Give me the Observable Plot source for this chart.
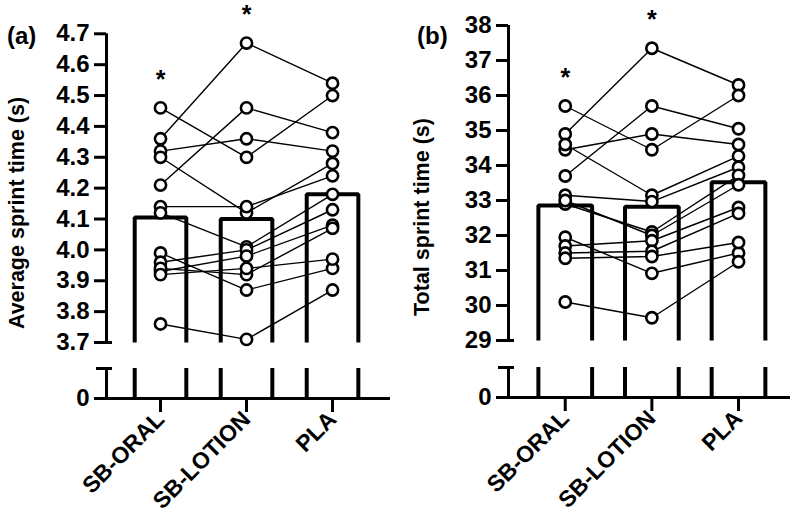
<!DOCTYPE html>
<html>
<head>
<meta charset="utf-8">
<script src="https://cdn.jsdelivr.net/npm/d3@7"></script>
<script src="https://cdn.jsdelivr.net/npm/@observablehq/plot@0.6"></script>
<style>
  html, body { margin: 0; padding: 0; background: #fff; }
  #wrap { position: relative; width: 800px; height: 516px; overflow: hidden;
          font-family: "Liberation Sans", Arial, Helvetica, sans-serif; font-weight: bold; color: #000; }
  .panel { position: absolute; top: 0; width: 400px; height: 516px; }
  .panel svg { position: absolute; left: 0; top: 0; }
  .tag { position: absolute; font-size: 24px; line-height: 1; }
  .ytitle { position: absolute; font-size: 21.5px; line-height: 1; white-space: nowrap;
            transform: translate(-50%, -50%) rotate(-90deg); }
</style>
</head>
<body>
<div id="wrap"></div>
<script>
// ---------- data ----------
const categories = ["SB-ORAL", "SB-LOTION", "PLA"];
const significance = ["*", "*", ""];

// (a) average sprint time (s), one value per participant, same order in each condition
const avgOral   = [4.36, 4.46, 4.21, 4.32, 4.30, 4.14, 4.12, 3.99, 3.76, 3.96, 3.93, 3.94, 3.92];
const avgLotion = [4.67, 4.30, 4.46, 4.36, 4.12, 4.14, 4.01, 3.87, 3.71, 4.00, 3.98, 3.92, 3.94];
const avgPla    = [4.54, 4.50, 4.38, 4.32, 4.28, 4.24, 4.18, 3.94, 3.87, 4.13, 4.08, 4.07, 3.97];
const avgMeans  = [4.105, 4.10, 4.18];
const avgTicks  = [0, 3.7, 3.8, 3.9, 4.0, 4.1, 4.2, 4.3, 4.4, 4.5, 4.6, 4.7];

// (b) total sprint time (s)
const totOral   = [34.9, 35.7, 33.7, 34.45, 34.6, 33.15, 32.9, 31.95, 30.1, 33.0, 31.7, 31.5, 31.35];
const totLotion = [37.35, 34.45, 35.7, 34.9, 33.15, 32.97, 32.1, 30.92, 29.65, 32.0, 31.85, 31.55, 31.4];
const totPla    = [36.3, 36.0, 35.05, 34.6, 34.27, 33.95, 33.72, 31.5, 31.25, 33.45, 32.8, 32.63, 31.8];
const totMeans  = [32.86, 32.82, 33.52];
const totTicks  = [0, 29, 30, 31, 32, 33, 34, 35, 36, 37, 38];

// ---------- layout (per panel) ----------
const panels = [
  { left: 0, tag: "(a)", tagX: 7, tagY: 24, title: "Average sprint time (s)", titleX: 18, titleY: 213,
    values: [avgOral, avgLotion, avgPla], means: avgMeans, ticks: avgTicks,
    fmt: d => d === 0 ? "0" : d.toFixed(1),
    lowTop: 1, brk: 3.7, top: 4.7, yRange: [398, 368, 342, 33.3],
    xDomain: [-0.628, 2.674], marginLeft: 106, half: 0.30 },
  { left: 400, tag: "(b)", tagX: 17, tagY: 24, title: "Total sprint time (s)", titleX: 23, titleY: 217,
    values: [totOral, totLotion, totPla], means: totMeans, ticks: totTicks,
    fmt: d => String(d),
    lowTop: 1, brk: 29, top: 38, yRange: [397, 367, 340, 25],
    xDomain: [-0.655, 2.60], marginLeft: 108, half: 0.31 }
];

const W = 400, H = 516, TICKFONT = 24, XFONT = 23;
const wrap = document.getElementById("wrap");

for (const p of panels) {
  const [xMin, xMax] = p.xDomain;
  const pxPerUnit = (390 - p.marginLeft) / (xMax - xMin);
  const capIn = 6 / pxPerUnit, capOut = 10 / pxPerUnit;

  const points = [];
  p.values.forEach((arr, i) => arr.forEach((v, s) => points.push({i, s, v})));

  const barPath = p.means.flatMap((m, i) => [
    {i, x: i - p.half, y: p.brk}, {i, x: i - p.half, y: m},
    {i, x: i + p.half, y: m}, {i, x: i + p.half, y: p.brk}
  ]);
  const lowSides = p.means.flatMap((m, i) => [i - p.half, i + p.half]);
  const stars = categories.map((c, i) => ({i, y: d3.max(p.values[i]), s: significance[i]})).filter(d => d.s);

  const chart = Plot.plot({
    width: W, height: H,
    marginLeft: p.marginLeft, marginRight: 10,
    marginTop: p.yRange[3], marginBottom: H - p.yRange[0],
    style: {fontFamily: '"Liberation Sans", Arial, sans-serif', fontWeight: "bold", fontSize: TICKFONT + "px", background: "transparent", overflow: "visible"},
    x: {type: "linear", domain: p.xDomain, axis: null},
    y: {type: "linear", domain: [0, p.lowTop, p.brk, p.top], range: p.yRange, axis: null},
    marks: [
      // bars (upper segment and lower segment sides)
      Plot.line(barPath, {x: "x", y: "y", z: "i", stroke: "black", strokeWidth: 4, strokeLinejoin: "miter", strokeLinecap: "butt"}),
      Plot.ruleX(lowSides, {y1: 0, y2: p.lowTop, stroke: "black", strokeWidth: 4}),
      // broken y axis
      Plot.ruleX([xMin], {y1: p.brk, y2: p.top, stroke: "black", strokeWidth: 3}),
      Plot.ruleX([xMin], {y1: 0, y2: p.lowTop, stroke: "black", strokeWidth: 3}),
      Plot.ruleY([p.brk], {x1: xMin, x2: xMin + capIn, stroke: "black", strokeWidth: 3}),
      Plot.ruleY([p.lowTop], {x1: xMin - capOut, x2: xMin + capIn, stroke: "black", strokeWidth: 3}),
      Plot.ruleY([0], {x1: xMin, x2: xMax, stroke: "black", strokeWidth: 3}),
      Plot.axisY(p.ticks, {anchor: "left", tickSize: 12, tickPadding: 5, tickFormat: p.fmt,
        fontSize: TICKFONT, fontWeight: "bold", stroke: "black", strokeWidth: 3, label: null}),
      Plot.axisX([0, 1, 2], {anchor: "bottom", tickSize: 14, tickPadding: 3, tickRotate: -45,
        tickFormat: i => categories[i], fontSize: XFONT, fontWeight: "bold", stroke: "black", strokeWidth: 3, label: null}),
      // paired participant lines + points
      Plot.line(points, {x: "i", y: "v", z: "s", stroke: "black", strokeWidth: 1.4}),
      Plot.dot(points, {x: "i", y: "v", r: 5.6, fill: "white", stroke: "black", strokeWidth: 2.6}),
      // significance markers
      Plot.text(stars, {x: "i", y: "y", text: "s", dy: -28, fontSize: 25, fontWeight: "bold", fill: "black"})
    ]
  });

  const div = document.createElement("div");
  div.className = "panel";
  div.style.left = p.left + "px";
  div.appendChild(chart);

  const tag = document.createElement("div");
  tag.className = "tag";
  tag.textContent = p.tag;
  tag.style.left = p.tagX + "px";
  tag.style.top = p.tagY + "px";
  div.appendChild(tag);

  const t = document.createElement("div");
  t.className = "ytitle";
  t.textContent = p.title;
  t.style.left = p.titleX + "px";
  t.style.top = p.titleY + "px";
  div.appendChild(t);

  wrap.appendChild(div);
}
</script>
</body>
</html>
